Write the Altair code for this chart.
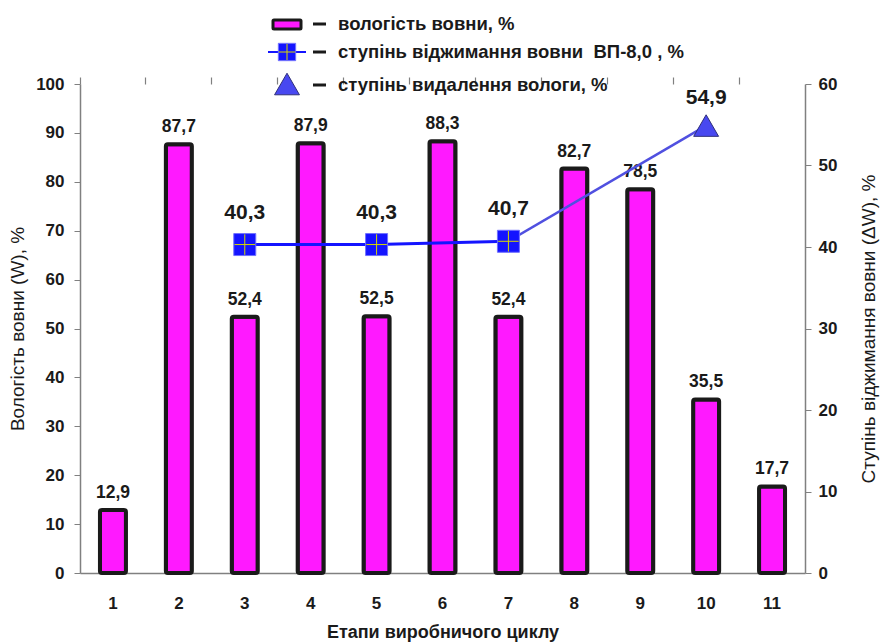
import altair as alt
import pandas as pd

steps = [str(i) for i in range(1, 12)]
moisture = [12.9, 87.7, 52.4, 87.9, 52.5, 88.3, 52.4, 82.7, 78.5, 35.5, 17.7]
squeeze_steps = ["3", "5", "7"]
squeeze = [40.3, 40.3, 40.7]
removal_steps = ["10"]
removal = [54.9]
legend_labels = [
    "вологість вовни, %",
    "ступінь віджимання вовни\u00a0\u00a0ВП-8,0 , %",
    "ступінь видалення вологи, %",
]


def fmt(v):
    return f"{v:.1f}".replace(".", ",")


bars_df = pd.DataFrame({"step": steps, "W": moisture, "label": [fmt(v) for v in moisture]})
sq_df = pd.DataFrame({"step": squeeze_steps, "v": squeeze, "label": [fmt(v) for v in squeeze]})
conn_df = pd.DataFrame({"step": [squeeze_steps[-1]] + removal_steps, "v": [squeeze[-1]] + removal})
tri_df = pd.DataFrame({"step": removal_steps, "v": removal, "label": [fmt(v) for v in removal]})

FONT = "Liberation Sans"
TXT = "#1a1a1a"
AX = "#808080"
MAGENTA = "#ff19ff"
BLUE = "#1414ff"
TRI = "#4848f0"

xscale = alt.Scale(domain=steps, paddingInner=0, paddingOuter=0)

x_main = alt.X(
    "step:N", scale=xscale,
    axis=alt.Axis(
        title="Етапи виробничого циклу", labelAngle=0, ticks=False,
        labelPadding=22, titlePadding=12, titleFontWeight="bold",
        titleFontSize=18, titleFont=FONT, titleColor=TXT,
        labelFont=FONT, labelFontWeight="bold", labelFontSize=17, labelColor=TXT,
        domainColor=AX, domainWidth=1.5,
    ),
)
x_tick_axis = alt.Axis(
    bandPosition=0, labels=False, ticks=True, tickSize=7, tickColor=AX,
    tickWidth=1.2, domain=False, title=None, grid=False,
)
x_ticks = alt.X("step:N", scale=xscale, axis=x_tick_axis)

y_left = alt.Y(
    "W:Q", scale=alt.Scale(domain=[0, 100]),
    axis=alt.Axis(
        values=list(range(0, 101, 10)), title="Вологість вовни (W), %",
        titleFont=FONT, titleFontSize=19, titleFontWeight="normal", titleColor=TXT,
        titlePadding=8, labelFont=FONT, labelFontWeight="bold", labelFontSize=17,
        labelColor=TXT, labelPadding=10, tickSize=6, tickColor=AX, domainColor=AX,
        domainWidth=1.5, grid=False,
    ),
)

bars = alt.Chart(bars_df).mark_bar(
    size=26, fill=MAGENTA, stroke="#1a1a1a", strokeWidth=4, cornerRadius=2
).encode(x=x_main, y=y_left)

bar_labels = alt.Chart(bars_df).mark_text(
    dy=-17, fontSize=17.5, fontWeight="bold", font=FONT, color=TXT, baseline="middle"
).encode(x=x_main, y="W:Q", text="label:N")

left = alt.layer(bars, bar_labels)

y_right_scale = alt.Scale(domain=[0, 60])
y_right = alt.Y(
    "v:Q", scale=y_right_scale,
    axis=alt.Axis(
        orient="right", values=list(range(0, 61, 10)),
        title="Ступінь віджимання вовни (ΔW), %", titleAngle=270,
        titleFont=FONT, titleFontSize=19, titleFontWeight="normal", titleColor=TXT,
        titlePadding=42, labelFont=FONT, labelFontWeight="bold", labelFontSize=17,
        labelColor=TXT, labelPadding=7, tickSize=6, tickColor=AX, domainColor=AX,
        domainWidth=1.5, grid=False,
    ),
)

conn_line = alt.Chart(conn_df).mark_line(color="#5050e0", strokeWidth=2.5).encode(
    x=x_ticks, y=y_right)
sq_line = alt.Chart(sq_df).mark_line(color=BLUE, strokeWidth=3).encode(x=x_ticks, y="v:Q")
sq_pts = alt.Chart(sq_df).mark_point(
    shape="square", size=484, filled=True, fill=BLUE, stroke="#7070ff",
    strokeWidth=1, opacity=1
).encode(x=x_ticks, y="v:Q")
sq_cross = alt.Chart(sq_df).mark_point(
    shape="M-1,0H1M0,-1V1", size=420, filled=False, stroke="#d8d800",
    strokeWidth=1, opacity=1
).encode(x=x_ticks, y="v:Q")
sq_labels = alt.Chart(sq_df).mark_text(
    dy=-32, fontSize=21, fontWeight="bold", font=FONT, color=TXT, baseline="middle"
).encode(x=x_ticks, y="v:Q", text="label:N")
tri_pts = alt.Chart(tri_df).mark_point(
    shape="triangle-up", size=620, filled=True, fill=TRI, stroke="#30307a",
    strokeWidth=1, opacity=1
).encode(x=x_ticks, y="v:Q")
tri_labels = alt.Chart(tri_df).mark_text(
    dy=-28, fontSize=21, fontWeight="bold", font=FONT, color=TXT, baseline="middle"
).encode(x=x_ticks, y="v:Q", text="label:N")

right = alt.layer(conn_line, sq_line, sq_pts, sq_cross, sq_labels, tri_pts, tri_labels)

one = alt.Data(values=[{"k": 0}])

leg_rect = alt.Chart(one).mark_rect(
    fill=MAGENTA, stroke="#1a1a1a", strokeWidth=3, cornerRadius=1
).encode(x=alt.value(193), x2=alt.value(221), y=alt.value(-64), y2=alt.value(-55))
leg_line = alt.Chart(one).mark_rule(color=BLUE, strokeWidth=2).encode(
    x=alt.value(188), x2=alt.value(226), y=alt.value(-32))
leg_sq = alt.Chart(one).mark_point(
    shape="square", size=300, filled=True, fill=BLUE, stroke="#7070ff",
    strokeWidth=1, opacity=1
).encode(x=alt.value(207), y=alt.value(-32))
leg_cross = alt.Chart(one).mark_point(
    shape="M-1,0H1M0,-1V1", size=260, filled=False, stroke="#d8d800",
    strokeWidth=1, opacity=1
).encode(x=alt.value(207), y=alt.value(-32))
leg_tri = alt.Chart(one).mark_point(
    shape="triangle-up", size=620, filled=True, fill=TRI, stroke="#30307a",
    strokeWidth=1, opacity=1
).encode(x=alt.value(207), y=alt.value(0))

legend_layers = [leg_rect, leg_line, leg_sq, leg_cross, leg_tri]
for yy, lab in zip([-60, -32, 1], legend_labels):
    legend_layers.append(
        alt.Chart(one).mark_rule(color="#1a1a1a", strokeWidth=3).encode(
            x=alt.value(233), x2=alt.value(246), y=alt.value(yy))
    )
    legend_layers.append(
        alt.Chart(one).mark_text(
            text=lab, align="left", baseline="middle", fontSize=18.5,
            fontWeight="bold", font=FONT, color=TXT
        ).encode(x=alt.value(258), y=alt.value(yy))
    )

chart = alt.layer(left, right, *legend_layers).resolve_scale(
    y="independent"
).resolve_axis(
    x="independent"
).properties(
    width=725, height=489,
    padding={"left": 80, "top": 84, "right": 82, "bottom": 69},
    autosize="none", background="white",
).configure_view(stroke=None)

chart.save("out.html", embed_options={"renderer": "svg", "actions": False})
